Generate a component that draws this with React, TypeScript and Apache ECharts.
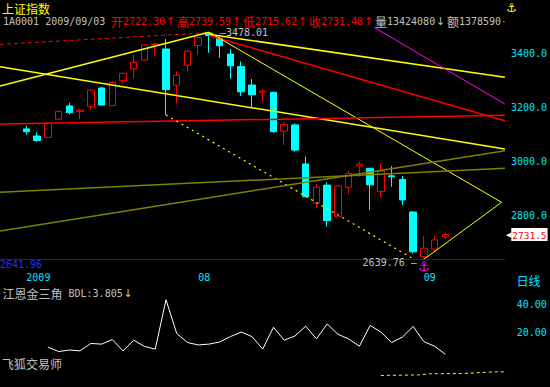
import React, { useEffect, useRef } from "react";
import * as echarts from "echarts";

// ---------- data ----------
const monthTicks = [0, 16, 37];
const monthNames = ["2009", "08", "09"];

// [open, close, low, high] per trading day
const ohlc: number[][] = [
  [3121, 3111, 3100, 3133],
  [3095, 3078, 3074, 3109],
  [3090, 3142, 3089, 3146],
  [3157, 3186, 3155, 3188],
  [3206, 3181, 3174, 3217],
  [3185, 3190, 3157, 3196],
  [3203, 3264, 3194, 3266],
  [3272, 3209, 3208, 3277],
  [3207, 3293, 3205, 3298],
  [3299, 3326, 3289, 3328],
  [3343, 3367, 3306, 3394],
  [3376, 3431, 3373, 3434],
  [3432, 3434.5, 3391, 3437],
  [3416, 3266, 3172.5, 3453],
  [3282, 3319, 3216, 3334],
  [3356, 3408, 3332, 3412],
  [3429, 3459, 3394, 3461],
  [3474, 3466, 3402, 3478.01],
  [3455, 3428, 3384, 3462],
  [3397, 3354, 3306, 3416],
  [3351, 3258, 3243, 3370],
  [3283, 3247, 3199, 3305],
  [3257, 3261, 3221, 3267],
  [3256, 3111, 3106, 3259],
  [3113, 3138, 3062, 3148],
  [3136, 3043, 3037, 3142],
  [2992, 2871, 2869, 3019],
  [2847, 2906, 2828, 2918],
  [2914, 2783, 2760, 2924],
  [2797, 2911, 2795, 2913],
  [2906, 2957, 2881, 2967],
  [2984, 2991, 2945, 3000],
  [2976, 2915, 2822, 2977],
  [2890, 2966, 2867, 2992],
  [2948, 2945, 2908, 2984],
  [2935, 2859, 2841, 2948],
  [2815, 2668, 2662, 2816],
  [2650, 2681, 2639.76, 2726],
  [2678, 2712, 2668, 2726],
  [2722.3, 2731.48, 2715.62, 2739.59],
];

const lastVolume = 13424080;
const lastAmount = 1378590;

const peakIndex = 17;
const peakHigh = 3478.01;
const lowIndex = 37;
const lowValue = 2639.76;
const bottomRef = 2641.96;

// BDL indicator (starts at day 2)
const bdlFirstIndex = 2;
const bdlValues = [
  9.1, 5.8, 6.9, 6.3, 11.7, 11.2, 14.5, 6.3, 14.1, 9.5, 7.6, 43.5, 18.9, 12.4,
  10.6, 11.2, 12.8, 16.7, 20.0, 16.7, 7.6, 23.5, 14.1, 17.1, 24.3, 15.0, 25.9,
  18.4, 15.0, 9.7, 24.8, 20.0, 12.4, 16.3, 24.1, 13.0, 9.7, 3.805,
];
const lowerIndicator = [
  [33, -11.6], [36.5, -11.2], [37.5, -10.4], [40.5, -10.2], [43.5, -9.0], [48.7, -8.7],
];

// trend lines [dayIndex, price]
const redDashedTop = [[-2.45, 3433], [17, 3476]];
const yellowFallingLeft = [[-2.45, 3350.6], [44.55, 3047.1]];
const yellowRisingToPeak = [[-2.45, 3279.4], [17, 3478.01]];
const yellowFromPeakFlat = [[17, 3470], [44.55, 3311.5]];
const redFromPeak = [[17, 3466], [44.55, 3151.4]];
const yellowFromPeakSteep = [[17, 3478.01], [44.24, 2850.5]];
const yellowFromLow = [[37, 2639.76], [44.24, 2850.5]];
const magentaParallel = [[32.4, 3495], [44.55, 3213]];
const redNearFlat = [[-2.45, 3139.3], [44.55, 3171.3]];
const yellowDashedParallel = [[13, 3172.5], [36.2, 2638]];
const oliveFlat = [[-2.45, 2887.4], [44.55, 2975.9]];
const oliveRising = [[-2.45, 2744.7], [44.55, 3040.8]];

// ---------- styles ----------
const MONO = "'DejaVu Sans Mono', 'Liberation Mono', monospace";
const CJK = "'Noto Sans CJK SC', 'Noto Sans', sans-serif";
const SYM = "'DejaVu Sans', sans-serif";
const CYAN = "#00ffff";
const LABEL_CYAN = "#00e4ff";
const GREY = "#c0c0c0";
const RED = "#ff0000";
const YELLOW = "#ffff00";

function mkText(text: string, x: number, y: number, fill: string, family: string, size: number, extra: any = {}) {
  return {
    type: "text",
    x,
    y,
    z: 100,
    silent: true,
    style: {
      text,
      fill,
      fontFamily: family,
      fontSize: size,
      textAlign: "left",
      align: "left",
      textVerticalAlign: "middle",
      verticalAlign: "middle",
      ...extra,
    },
  };
}

// lays text out in half-width (ASCII) / full-width cells like a bitmap font
function textRuns(str: string, x0: number, y: number, fill: string, extra: any = {}) {
  const els: any[] = [];
  let x = x0;
  let buf = "";
  let bx = x0;
  const flush = () => {
    if (buf) els.push(mkText(buf, bx, y, fill, MONO, 10, extra));
    buf = "";
  };
  for (const ch of str) {
    if (ch.charCodeAt(0) < 128) {
      if (!buf) bx = x;
      buf += ch;
      x += 6;
    } else {
      flush();
      const sym = ch === "↑" || ch === "↓" || ch === "·";
      els.push(mkText(ch, x + (sym ? 1 : 0), y, fill, sym ? SYM : CJK, sym ? 11 : 12, extra));
      x += 12;
    }
  }
  flush();
  return els;
}

function seg(data: number[][], color: string, width: number, type: any = "solid") {
  return {
    type: "line",
    xAxisIndex: 0,
    yAxisIndex: 0,
    data,
    symbol: "none",
    silent: true,
    z: 3,
    lineStyle: { color, width, type },
  };
}

export default function App() {
  const ref = useRef<HTMLDivElement>(null);

  useEffect(() => {
    document.body.style.margin = "0";
    document.body.style.background = "#000";
    if (!ref.current) return;
    const chart = echarts.init(ref.current, undefined, { renderer: "svg" });

    const last = ohlc[ohlc.length - 1];
    const f2 = (v: number) => v.toFixed(2);
    const quote = `开${f2(last[0])}↑高${f2(last[3])}↑低${f2(last[2])}↑收${f2(last[1])}↑`;
    const bdlLast = bdlValues[bdlValues.length - 1];

    const graphics: any[] = [
      mkText("上证指数", 2, 8, YELLOW, CJK, 12),
      ...textRuns("1A0001 2009/09/03 ", 3, 21.5, GREY),
      ...textRuns(quote, 111, 21.5, RED),
      ...textRuns(`量${lastVolume}↓额${lastAmount}·`, 375, 21.5, GREY),
      mkText("⚓", 506, 8, YELLOW, SYM, 12),
      ...textRuns(`江恩金三角 BDL:${bdlLast.toFixed(3)}↓`, 2.5, 293.5, GREY),
      mkText("日线", 516.5, 280, LABEL_CYAN, CJK, 12),
      mkText("飞狐交易师", 2, 363.3, GREY, CJK, 12, { backgroundColor: "#000" }),
    ];

    const option: any = {
      animation: false,
      backgroundColor: "#000",
      graphic: graphics,
      grid: [
        { left: 0, top: 26.2, width: 505, height: 244 },
        { left: 0, top: 277.1, width: 505, height: 122.4 },
      ],
      xAxis: [
        {
          type: "value",
          gridIndex: 0,
          min: -2.45,
          max: 44.55,
          axisLine: { show: false },
          axisTick: { show: false },
          splitLine: { show: false },
          axisLabel: {
            customValues: monthTicks,
            formatter: (v: number) => {
              const k = monthTicks.indexOf(Math.round(v));
              return k >= 0 ? monthNames[k] : "";
            },
            color: LABEL_CYAN,
            fontFamily: MONO,
            fontSize: 10,
            align: "left",
            margin: 2,
          },
        },
        { type: "value", gridIndex: 1, min: -2.45, max: 44.55, show: false },
      ],
      yAxis: [
        {
          type: "value",
          gridIndex: 0,
          position: "right",
          min: 2600,
          max: 3500,
          interval: 200,
          axisLine: { show: false },
          axisTick: { show: false },
          splitLine: { show: false },
          axisLabel: {
            formatter: (v: number) => (v >= 2800 && v <= 3400 ? v.toFixed(1) : ""),
            color: LABEL_CYAN,
            fontFamily: MONO,
            fontSize: 10,
            margin: 6,
          },
        },
        {
          type: "value",
          gridIndex: 1,
          position: "right",
          min: -20,
          max: 60,
          interval: 20,
          axisLine: { show: false },
          axisTick: { show: false },
          splitLine: { show: false },
          axisLabel: {
            formatter: (v: number) => (v === 20 || v === 40 ? v.toFixed(2) : ""),
            color: LABEL_CYAN,
            fontFamily: MONO,
            fontSize: 10,
            margin: 11.7,
          },
        },
      ],
      series: [
        {
          type: "candlestick",
          xAxisIndex: 0,
          yAxisIndex: 0,
          data: ohlc.map((c, i) => [i, c[0], c[1], c[2], c[3]]),
          encode: { x: 0, y: [1, 2, 3, 4] },
          barWidth: 7,
          silent: true,
          itemStyle: {
            color: "#000",
            color0: CYAN,
            borderColor: RED,
            borderColor0: CYAN,
            borderWidth: 1,
          },
          markLine: {
            silent: true,
            symbol: ["none", "none"],
            data: [
              {
                yAxis: bottomRef,
                lineStyle: { color: "#1010ff", width: 1, type: "solid" },
                label: {
                  show: true,
                  position: "insideStartBottom",
                  formatter: bottomRef.toFixed(2),
                  color: "#2030ff",
                  fontFamily: MONO,
                  fontSize: 10,
                  distance: [0, 1],
                },
              },
              {
                yAxis: last[1],
                lineStyle: { color: "rgba(0,0,0,0)", width: 0 },
                label: {
                  show: true,
                  position: "end",
                  distance: 1,
                  formatter: `{a|◀}{b|${last[1].toFixed(1)}}`,
                  rich: {
                    a: { color: "#fff", fontFamily: SYM, fontSize: 7 },
                    b: {
                      color: RED,
                      backgroundColor: "#fff",
                      fontFamily: MONO,
                      fontSize: 9.5,
                      padding: [2, 1, 1, 1],
                    },
                  },
                },
              },
            ],
          },
          markPoint: {
            silent: true,
            symbol: "circle",
            symbolSize: 1,
            itemStyle: { color: "rgba(0,0,0,0)" },
            data: [
              {
                coord: [peakIndex, peakHigh],
                label: {
                  show: true,
                  position: "inside",
                  formatter: "—" + peakHigh.toFixed(2),
                  align: "left",
                  verticalAlign: "middle",
                  offset: [11, 0],
                  color: GREY,
                  fontFamily: MONO,
                  fontSize: 10,
                },
              },
              {
                coord: [lowIndex, lowValue],
                label: {
                  show: true,
                  position: "inside",
                  formatter: lowValue.toFixed(2) + " —",
                  align: "right",
                  verticalAlign: "middle",
                  offset: [-7, 3.5],
                  color: GREY,
                  fontFamily: MONO,
                  fontSize: 10,
                },
              },
              {
                coord: [lowIndex, lowValue],
                label: {
                  show: true,
                  position: "inside",
                  formatter: "⚓",
                  align: "center",
                  verticalAlign: "middle",
                  offset: [0, 7],
                  color: "#ff00ff",
                  fontFamily: SYM,
                  fontSize: 13,
                },
              },
            ],
          },
        },
        seg(redDashedTop, RED, 1, [4, 3]),
        seg(yellowFallingLeft, YELLOW, 1.5),
        seg(yellowRisingToPeak, YELLOW, 1.5),
        seg(yellowFromPeakFlat, YELLOW, 1.5),
        seg(redFromPeak, RED, 1.5),
        seg(yellowFromPeakSteep, YELLOW, 1),
        seg(yellowFromLow, YELLOW, 1),
        seg(magentaParallel, "#ff00ff", 1),
        seg(redNearFlat, RED, 1.5),
        seg(yellowDashedParallel, YELLOW, 1.2, [2, 4]),
        seg(oliveFlat, "#808000", 1.5),
        seg(oliveRising, "#808000", 1.5),
        {
          type: "line",
          xAxisIndex: 1,
          yAxisIndex: 1,
          data: bdlValues.map((v, k) => [k + bdlFirstIndex, v]),
          symbol: "none",
          silent: true,
          lineStyle: { color: "#ffffff", width: 1 },
        },
        {
          type: "line",
          xAxisIndex: 1,
          yAxisIndex: 1,
          data: lowerIndicator,
          symbol: "none",
          silent: true,
          clip: false,
          lineStyle: { color: YELLOW, width: 1, type: [3, 3] },
        },
      ],
    };

    chart.setOption(option);
    return () => chart.dispose();
  }, []);

  return (
    <div
      ref={ref}
      style={{ position: "absolute", left: 0, top: 0, width: 550, height: 387, background: "#000" }}
    />
  );
}
